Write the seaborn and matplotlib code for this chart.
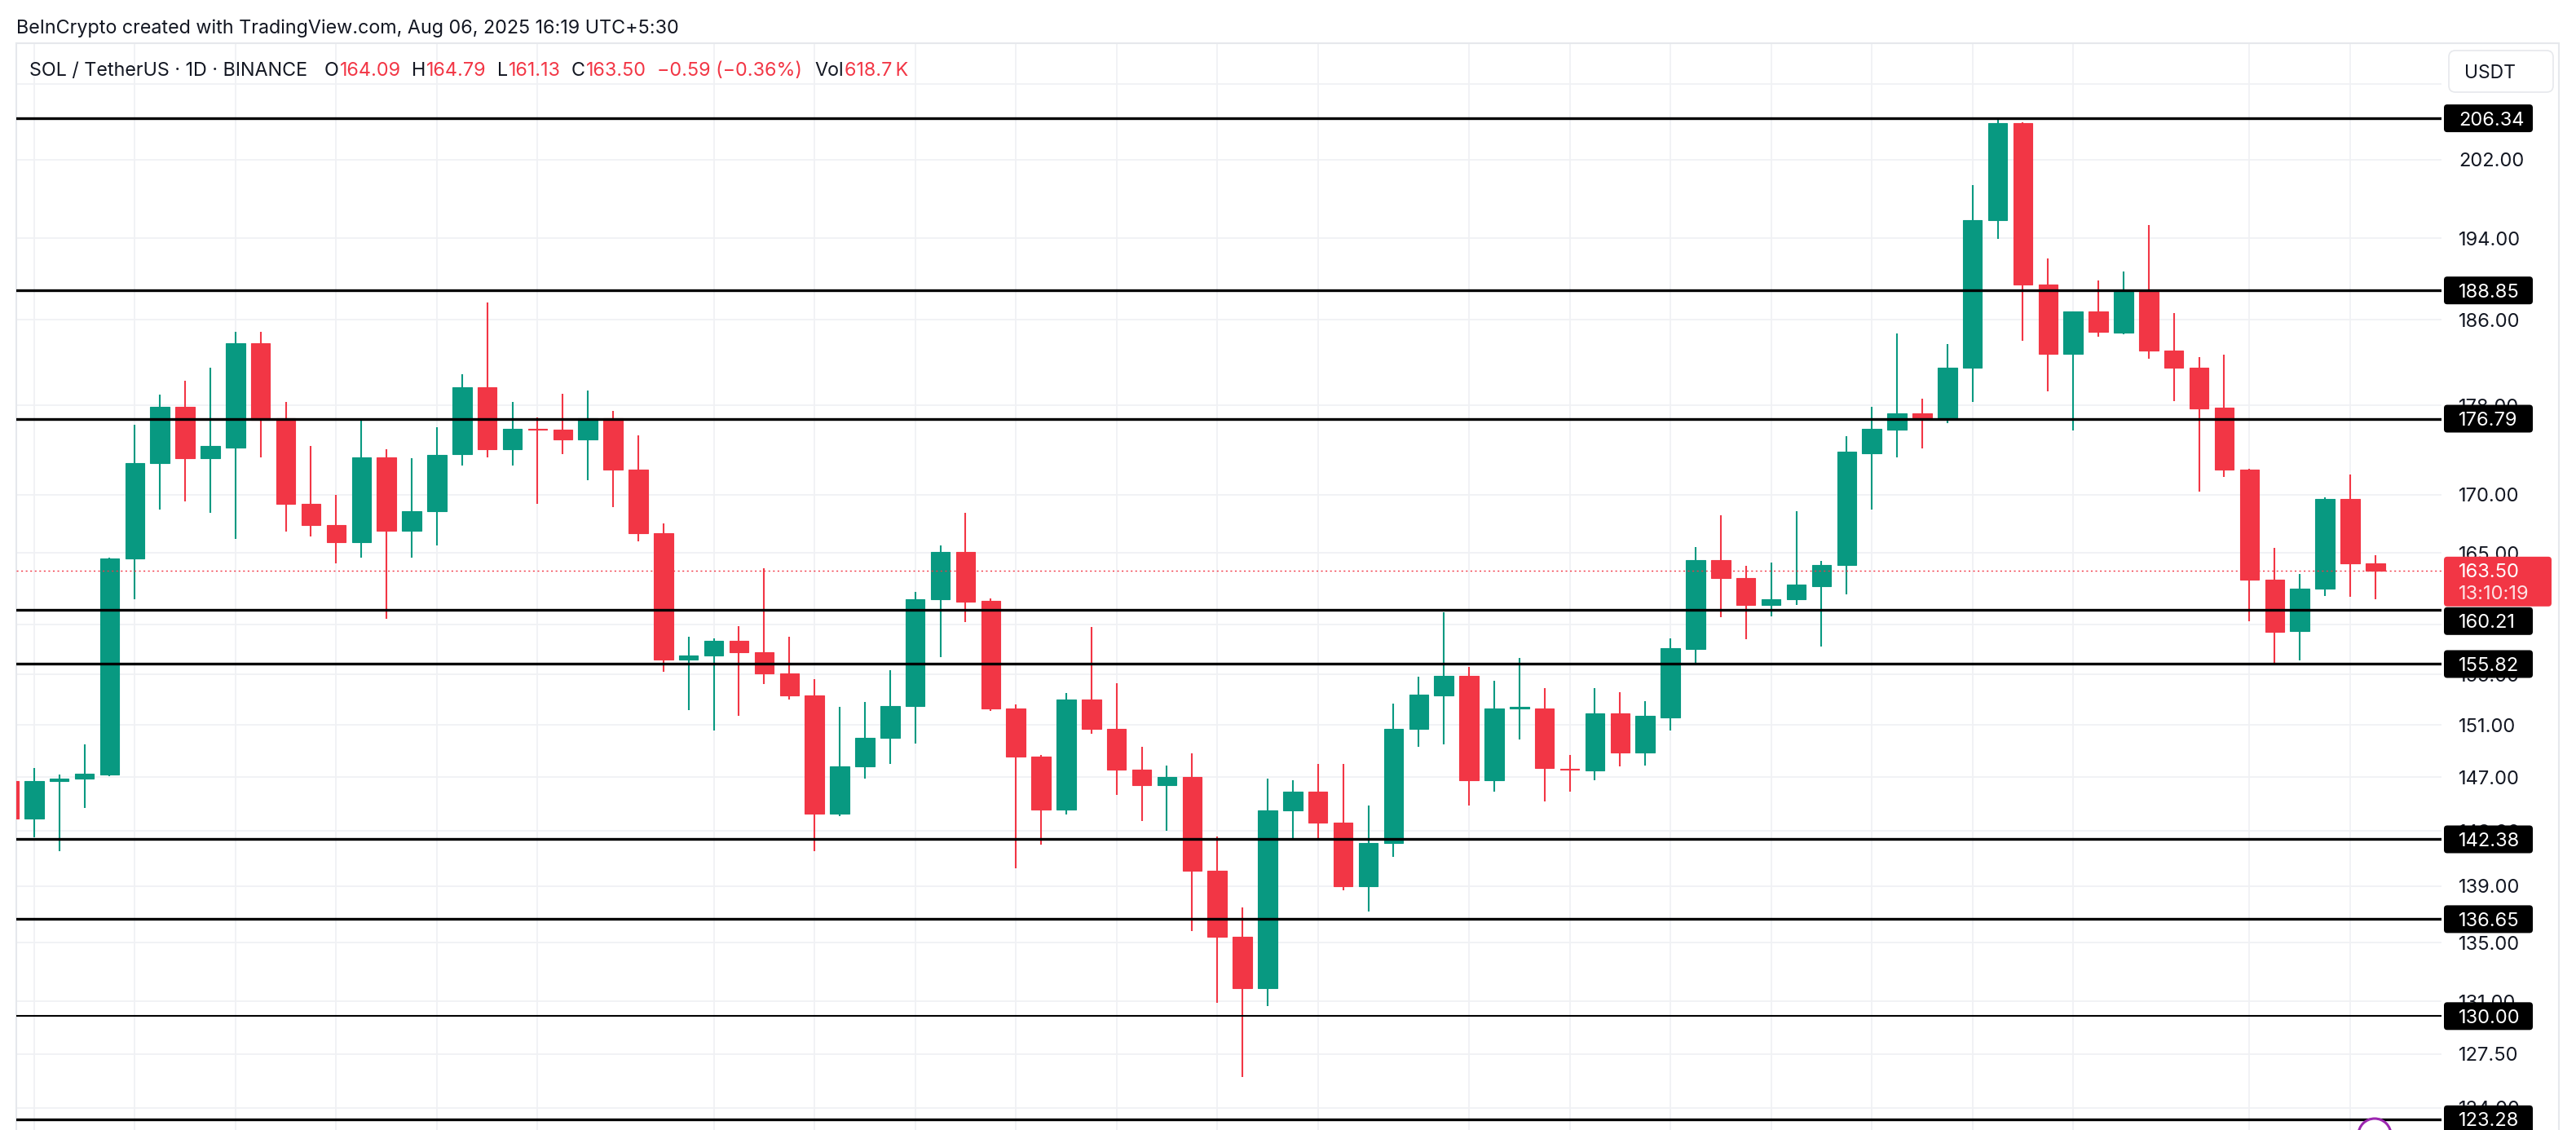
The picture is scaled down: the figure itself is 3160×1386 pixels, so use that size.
import numpy as np
import pandas as pd
import matplotlib
matplotlib.use("Agg")
import matplotlib.pyplot as plt
import seaborn as sns
from matplotlib.patches import FancyBboxPatch, Circle
from matplotlib.lines import Line2D
from matplotlib.ticker import NullLocator, NullFormatter
from matplotlib.transforms import IdentityTransform

# SOL / USDT daily candles (May 4 .. Aug 6 2025)
opens = [146.7, 143.9, 146.7, 146.9, 147.2, 164.5, 172.8, 177.9, 173.2, 174.2,
         183.8, 176.8, 169.2, 167.4, 165.9, 173.3, 166.9, 168.6, 173.6, 179.7,
         174.0, 175.9, 175.8, 174.9, 176.8, 172.2, 166.7, 156.2, 156.5, 157.7,
         156.8, 155.1, 153.3, 144.3, 147.8, 150.0, 152.5, 161.1, 165.1, 161.0,
         152.3, 148.6, 144.6, 153.0, 150.7, 147.6, 146.4, 147.0, 140.1, 135.4,
         131.9, 144.5, 145.9, 143.6, 139.0, 142.1, 150.7, 153.3, 154.9, 146.8,
         152.3, 152.3, 147.65, 147.5, 151.9, 148.9, 151.6, 157.0, 164.4, 162.9,
         160.6, 161.1, 162.2, 164.0, 173.7, 175.8, 177.3, 176.9, 181.5, 195.8,
         205.8, 189.4, 182.8, 186.8, 184.8, 188.7, 183.1, 181.5, 177.8, 172.2,
         162.7, 158.5, 162.0, 169.6, 164.09]
highs = [147.4, 147.7, 147.2, 149.5, 164.6, 176.2, 179.0, 180.3, 181.5, 184.9,
         184.9, 178.3, 174.3, 170.0, 176.7, 174.0, 173.2, 176.0, 180.9, 187.7,
         178.3, 176.9, 179.1, 179.4, 177.5, 175.3, 167.5, 158.0, 157.9, 158.9,
         163.7, 158.0, 154.6, 152.4, 152.8, 155.3, 161.7, 165.6, 168.4, 161.2,
         152.6, 148.7, 153.5, 158.8, 154.3, 149.3, 147.9, 148.8, 142.6, 137.5,
         146.9, 146.8, 148.0, 148.0, 144.9, 152.7, 154.8, 160.0, 155.6, 154.5,
         156.3, 153.9, 148.7, 153.9, 153.6, 152.9, 157.9, 165.5, 168.2, 163.9,
         164.2, 168.6, 164.3, 175.2, 177.9, 184.7, 178.6, 183.7, 199.4, 206.3,
         205.9, 192.0, 186.8, 189.8, 190.7, 195.3, 186.7, 182.5, 182.7, 172.3,
         165.4, 163.2, 169.8, 171.8, 164.79]
lows = [143.2, 142.5, 141.5, 144.7, 147.1, 161.1, 168.7, 169.4, 168.4, 166.2,
        173.3, 166.8, 166.4, 164.1, 164.6, 159.5, 164.6, 165.6, 172.6, 173.3,
        172.6, 169.2, 173.6, 171.3, 168.9, 166.0, 155.2, 152.2, 150.6, 151.7,
        154.2, 153.0, 141.5, 144.1, 146.9, 148.0, 149.6, 156.4, 159.2, 152.1,
        140.3, 142.0, 144.2, 150.3, 145.7, 143.7, 143.0, 135.8, 130.9, 126.0,
        130.7, 142.4, 142.3, 138.7, 137.2, 141.1, 149.3, 149.5, 144.9, 145.9,
        149.9, 145.2, 145.9, 146.8, 147.8, 147.9, 150.6, 155.7, 159.6, 157.8,
        159.7, 160.6, 157.2, 161.5, 168.7, 173.3, 174.1, 176.4, 178.3, 193.9,
        184.0, 179.3, 175.7, 184.4, 184.6, 182.3, 178.4, 170.3, 171.6, 159.3,
        155.8, 156.1, 161.4, 161.3, 161.13]
closes = [143.9, 146.7, 146.9, 147.3, 164.5, 172.8, 177.9, 173.2, 174.3, 183.8,
          176.7, 169.2, 167.4, 165.9, 173.3, 166.9, 168.6, 173.5, 179.7, 174.0,
          175.9, 175.8, 174.9, 176.8, 172.2, 166.7, 156.2, 156.5, 157.7, 156.8,
          155.1, 153.3, 144.3, 147.8, 150.0, 152.5, 161.1, 165.1, 160.9, 152.3,
          148.6, 144.6, 153.0, 150.7, 147.6, 146.4, 147.0, 140.1, 135.4, 131.9,
          144.5, 145.9, 143.6, 139.0, 142.1, 150.7, 153.4, 154.9, 146.8, 152.3,
          152.45, 147.7, 147.55, 151.9, 148.9, 151.7, 157.1, 164.4, 162.9, 160.6,
          161.1, 162.3, 164.0, 173.8, 175.9, 177.3, 176.9, 181.5, 195.8, 205.8,
          189.4, 182.8, 186.8, 184.9, 188.7, 183.1, 181.5, 177.7, 172.2, 162.7,
          158.4, 162.0, 169.6, 164.1, 163.50]

# horizontal support / resistance levels drawn on the chart
levels = [206.34, 188.85, 176.79, 160.21, 155.82, 142.38, 136.65, 130.00, 123.28]
thin_levels = [130.00]

# price scale
grid_prices = [124, 127.5, 131, 135, 139, 143, 147, 151, 155, 159, 165, 170, 178, 186, 194, 202, 210]
tick_labels = ["124.00", "127.50", "131.00", "135.00", "139.00", "143.00", "147.00", "151.00",
               "155.00", "", "165.00", "170.00", "178.00", "186.00", "194.00", "202.00", ""]
grid_days = [1, 5, 9, 13, 17, 21, 28, 32, 36, 40, 44, 48, 52, 58, 62, 66, 70, 74, 78, 82, 89, 93]

last_price = 163.50
countdown = "13:10:19"
credit = "BeInCrypto created with TradingView.com, Aug 06, 2025 16:19 UTC+5:30"
symbol = "SOL / TetherUS · 1D · BINANCE"
ohlc_text = [("O", "164.09"), ("H", "164.79"), ("L", "161.13"), ("C", "163.50")]
change_text = "\u22120.59 (\u22120.36%)"
vol_text = "618.7\u2009K"

W, H = 3160, 1386
GREEN = "#089981"
RED = "#F23645"
INK = "#131722"
GRID = "#F0F1F4"
BORDER = "#E6E8EC"

sns.set_theme(style="white")
plt.rcParams["font.family"] = ["Inter", "DejaVu Sans"]

df = pd.DataFrame({"open": opens, "high": highs, "low": lows, "close": closes})
df["day"] = np.arange(len(df))
df["color"] = np.where(df["close"] >= df["open"], GREEN, RED)

fig = plt.figure(figsize=(W / 100, H / 100), dpi=100)
fig.patch.set_facecolor("white")
ax = fig.add_axes([20 / W, 0, (2995 - 20) / W, (H - 53) / H])
ax.set_facecolor("white")
ax.set_yscale("log")
ax.set_ylim(122.6, 214.47)
ax.set_xlim(0.294, 96.63)

# grid
for d in grid_days:
    ax.axvline(d, color=GRID, lw=1.3, zorder=0)
for p in grid_prices:
    ax.axhline(p, color=GRID, lw=1.3, zorder=0)

# candles
ax.vlines(df["day"], df["low"], df["high"], colors=df["color"], lw=1.5, zorder=2)
body_lo = df[["open", "close"]].min(axis=1)
body_h = (df["close"] - df["open"]).abs()
ax.bar(df["day"], body_h, bottom=body_lo, width=0.76, color=df["color"],
       edgecolor=df["color"], linewidth=0.8, zorder=3)

# levels
for lv in levels:
    ax.axhline(lv, color="black", lw=1.5 if lv in thin_levels else 2.4, zorder=4)
ax.axhline(last_price, color=RED, lw=1.0, dashes=(1.5, 2.5), zorder=4)

# price axis
ax.set_yticks(grid_prices)
ax.set_yticklabels(tick_labels)
ax.yaxis.set_minor_locator(NullLocator())
ax.yaxis.set_minor_formatter(NullFormatter())
ax.yaxis.tick_right()
ax.tick_params(axis="y", which="both", length=0, pad=15, labelsize=17, labelcolor=INK)
ax.set_xticks([])
for side in ["top", "right", "bottom"]:
    ax.spines[side].set_visible(False)
ax.spines["left"].set_color(BORDER)
ax.spines["left"].set_linewidth(1.5)

# frame of the chart pane
fig.add_artist(Line2D([20, 3139], [H - 53, H - 53], transform=IdentityTransform(), color=BORDER, lw=1.5))
fig.add_artist(Line2D([3139, 3139], [0, H - 53], transform=IdentityTransform(), color=BORDER, lw=1.5))


def ypix(price):
    return ax.transData.transform((1, price))[1]


# last price tag
red_top = ypix(last_price) + 17
fig.add_artist(FancyBboxPatch((2998, red_top - 61), 132, 61, boxstyle="round,pad=0,rounding_size=4",
                              transform=IdentityTransform(), facecolor=RED, edgecolor="none", zorder=6))
fig.text(3016, red_top - 17, f"{last_price:.2f}", transform=IdentityTransform(), color="white",
         fontsize=17, va="center_baseline", ha="left", zorder=7)
fig.text(3016, red_top - 44, countdown, transform=IdentityTransform(), color="#FDE3E6",
         fontsize=17, va="center_baseline", ha="left", zorder=7)

# level tags
for lv in levels:
    yc = ypix(lv)
    top = yc + 17
    if top > red_top - 61 and yc < red_top:
        top = red_top - 62
    fig.add_artist(FancyBboxPatch((2998, top - 34), 109, 34, boxstyle="round,pad=0,rounding_size=4",
                                  transform=IdentityTransform(), facecolor="black", edgecolor="none", zorder=5))
    fig.text(3016, top - 17, f"{lv:.2f}", transform=IdentityTransform(), color="white",
             fontsize=17, va="center_baseline", ha="left", zorder=7)

# currency button
fig.add_artist(FancyBboxPatch((3004, H - 113), 128, 51, boxstyle="round,pad=0,rounding_size=8",
                              transform=IdentityTransform(), facecolor="white", edgecolor=BORDER,
                              lw=1.2, zorder=6))
fig.text(3023, H - 88, "USDT", transform=IdentityTransform(), color=INK, fontsize=16.5,
         va="center_baseline", ha="left", zorder=7)

# header texts
fig.text(20, H - 41, credit, transform=IdentityTransform(), color=INK, fontsize=16.8, va="baseline")

renderer = fig.canvas.get_renderer()
base2 = H - 93


def put(x, s, color):
    t = fig.text(x, base2, s, transform=IdentityTransform(), color=color, fontsize=16.8, va="baseline")
    return t.get_window_extent(renderer).x1


put(36, symbol, INK)
x = 398
for key, val in ohlc_text:
    x = put(x, key, INK) + 1
    x = put(x, val, RED) + 13
x = put(x, change_text, RED) + 16
x = put(x, "Vol", INK) + 1
put(x, vol_text, RED)

# tradingview badge at the bottom edge
fig.add_artist(Circle((2913, -6), 20, transform=IdentityTransform(), facecolor="white",
                      edgecolor="#9C27B0", lw=2.2, zorder=6))

fig.savefig("out.png", dpi=100, facecolor="white")
